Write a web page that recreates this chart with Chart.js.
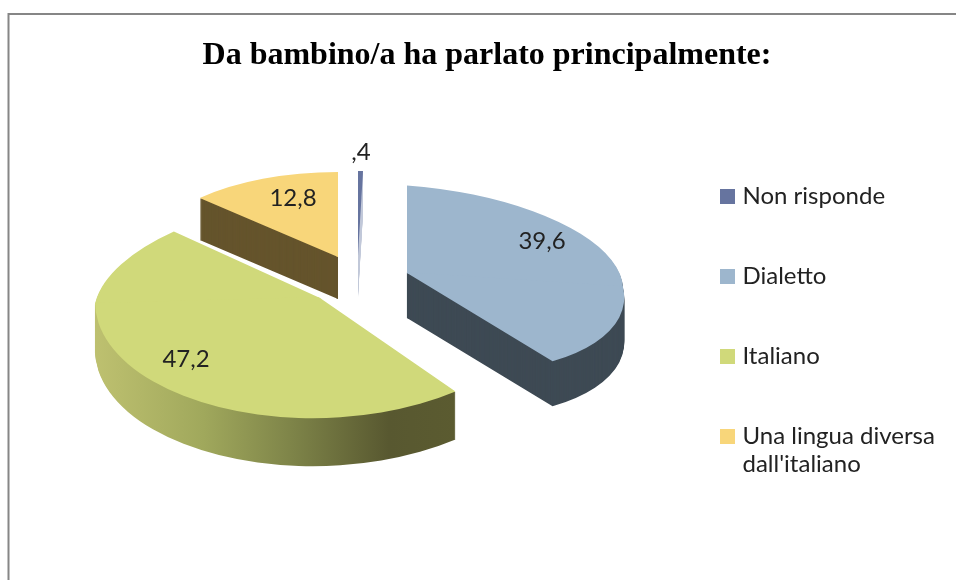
<!DOCTYPE html>
<html>
<head>
<meta charset="utf-8">
<style>html,body{margin:0;padding:0;background:#fff;overflow:hidden}canvas{display:block}</style>
<script src="https://cdn.jsdelivr.net/npm/chart.js@4"></script>
</head>
<body>
<canvas id="c" width="956" height="580"></canvas>
<script>
const titleText = 'Da bambino/a ha parlato principalmente:';
const categories = ['Non risponde', 'Dialetto', 'Italiano', ['Una lingua diversa', "dall'italiano"]];
const values = [0.4, 39.6, 47.2, 12.8];
const topColors = ['#66749f', '#9db6cd', '#d0d97a', '#f8d67a'];

// Where each exploded slice sits in the tilted 3D view
const sliceViews = [
  {ax: 358, ay: 255, rx: 200, ryT: 84, ryB: 84, sT: 0, sB: 0, t: 0, depth: 42, side: '#c3c9da'},
  {ax: 407, ay: 273, rx: 216, ryT: 88, ryB: 99, sT: 5.4, sB: 23, t: 14, depth: 45, side: '#3e4a54'},
  {ax: 320, ay: 298, rx: 225, ryT: 102, ryB: 120, sT: -23, sB: 4, t: -6, depth: 48,
   sideStops: [[97, '#bdc06f'], [200, '#a0a85c'], [290, '#7d8348'], [385, '#585830'], [453, '#5b5b30']]},
  {ax: 338, ay: 257, rx: 192, ryT: 85, ryB: 85, sT: 0, sB: 0, t: 0, depth: 42, side: '#65542c'}
];
const labelSpots = [[361, 152], [542, 241], [186, 359], [293, 198]];

function drawHalf(ctx, arc, v, dy, upper) {
  const R = arc.outerRadius;
  const ry = upper ? v.ryT : v.ryB;
  const s = upper ? v.sT : v.sB;
  const overlap = 2;
  ctx.save();
  ctx.translate(v.ax, v.ay + dy);
  ctx.transform(v.rx / R, v.t / R, s / R, ry / R, 0, 0);
  ctx.translate(-arc.x, -arc.y);
  ctx.beginPath();
  if (upper) ctx.rect(arc.x - 2 * R, arc.y - 2 * R, 4 * R, 2 * R + overlap);
  else ctx.rect(arc.x - 2 * R, arc.y - overlap, 4 * R, 2 * R + overlap);
  ctx.clip();
  arc.draw(ctx);
  ctx.restore();
}
function drawSlice(ctx, arc, v, dy) {
  drawHalf(ctx, arc, v, dy, true);
  drawHalf(ctx, arc, v, dy, false);
}

const pie3d = {
  id: 'pie3d',
  beforeDraw(chart) {
    const ctx = chart.ctx;
    ctx.save();
    ctx.fillStyle = '#fff';
    ctx.fillRect(0, 0, 956, 580);
    ctx.fillStyle = '#868686';
    ctx.fillRect(8, 13, 948, 2);
    ctx.fillRect(7.5, 13, 2, 567);
    ctx.restore();
    const lg = chart.legend;
    lg.left = 720 - lg.options.labels.padding + 4.5;
    lg.right = 956;
    lg.top = 184.5 - lg.options.labels.padding;
    lg.bottom = 580;
  },
  beforeDatasetDraw(chart, args) {
    const ctx = chart.ctx;
    const arcs = args.meta.data;
    [3, 0, 1, 2].forEach(i => {
      const arc = arcs[i], v = sliceViews[i], R = arc.outerRadius;
      const original = arc.options;
      let side = v.side;
      if (v.sideStops) {
        const toArc = X => arc.x + (X - v.ax) * R / v.rx;
        const first = v.sideStops[0][0], last = v.sideStops[v.sideStops.length - 1][0];
        side = ctx.createLinearGradient(toArc(first), 0, toArc(last), 0);
        v.sideStops.forEach(st => side.addColorStop((st[0] - first) / (last - first), st[1]));
      }
      arc.options = Object.assign({}, original, {backgroundColor: side});
      for (let d = v.depth; d >= 1; d--) drawSlice(ctx, arc, v, d);
      arc.options = original;
      drawSlice(ctx, arc, v, 0);
    });
    return false;
  },
  afterDatasetsDraw(chart) {
    const ctx = chart.ctx;
    ctx.save();
    ctx.font = '24px Lato';
    ctx.fillStyle = '#222';
    ctx.textAlign = 'center';
    ctx.textBaseline = 'middle';
    values.forEach((val, i) => {
      const txt = String(val).replace(/^0\./, ',').replace('.', ',');
      ctx.fillText(txt, labelSpots[i][0], labelSpots[i][1]);
    });
    ctx.restore();
  }
};

new Chart(document.getElementById('c'), {
  type: 'pie',
  data: {
    labels: categories,
    datasets: [{data: values, backgroundColor: topColors, borderWidth: 0}]
  },
  plugins: [pie3d],
  options: {
    responsive: false,
    animation: false,
    devicePixelRatio: 1,
    layout: {padding: {left: 18, right: 0, top: 0, bottom: 0}},
    plugins: {
      tooltip: {enabled: false},
      title: {
        display: true,
        text: titleText,
        color: '#000',
        font: {family: '"Liberation Serif"', size: 32, weight: 'bold', lineHeight: 1.2},
        padding: {top: 37, bottom: 10}
      },
      legend: {
        display: true,
        position: 'right',
        align: 'start',
        labels: {
          color: '#222',
          font: {family: 'Lato', size: 24, lineHeight: 1.17},
          usePointStyle: true,
          pointStyle: 'rect',
          boxWidth: 6,
          boxHeight: 15,
          padding: 56
        }
      }
    }
  }
});
</script>
</body>
</html>
